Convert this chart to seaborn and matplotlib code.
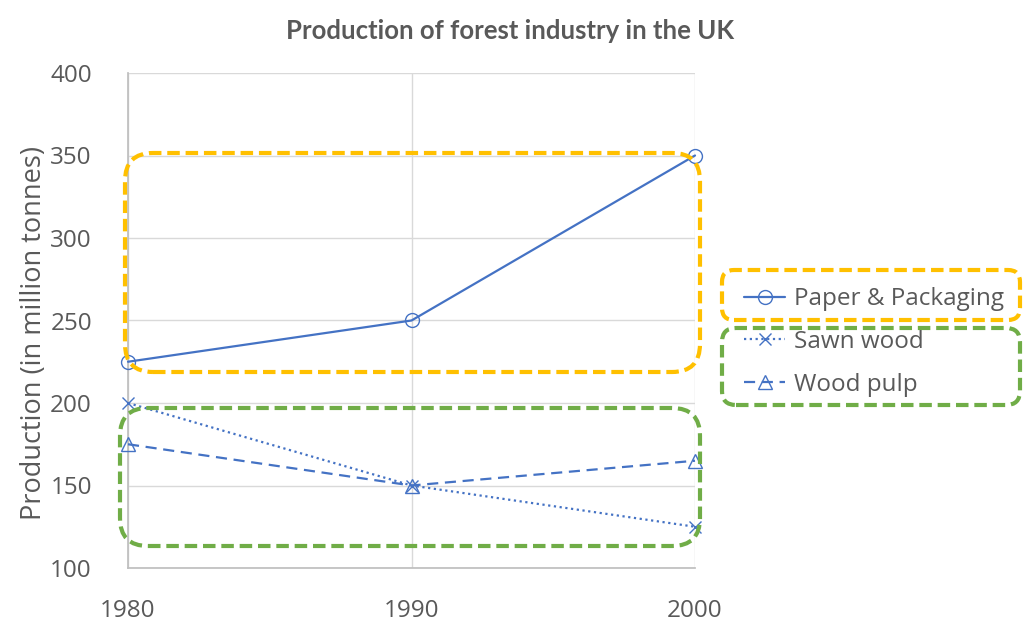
import matplotlib
matplotlib.use("Agg")
import matplotlib.pyplot as plt
import matplotlib.transforms as mtransforms
from matplotlib.patches import FancyBboxPatch
from matplotlib.lines import Line2D
import seaborn as sns
import pandas as pd

years = [1980, 1990, 2000]
paper_packaging = [225, 250, 350]
sawn_wood = [200, 150, 125]
wood_pulp = [175, 150, 165]
series_names = ["Paper & Packaging", "Sawn wood", "Wood pulp"]
y_ticks = [100, 150, 200, 250, 300, 350, 400]
title = "Production of forest industry in the UK"
y_label = "Production (in million tonnes)"

sns.set_theme(style="white")
plt.rcParams["font.family"] = ["Open Sans", "DejaVu Sans"]

BLUE = "#4472C4"
GRAY_TXT = "#595959"
GRID = "#D9D9D9"
ORANGE = "#FFC000"
GREEN = "#70AD47"

fig = plt.figure(figsize=(10.24, 6.32), dpi=100)
ax = fig.add_axes([128/1024, 1 - 568/632, (695-128)/1024, (568-73)/632])

df = pd.DataFrame({
    "year": years * 3,
    "value": paper_packaging + sawn_wood + wood_pulp,
    "series": [series_names[0]]*3 + [series_names[1]]*3 + [series_names[2]]*3,
})

styles = {
    series_names[0]: dict(marker="o", linestyle="-", ms=10),
    series_names[1]: dict(marker="x", linestyle=(0, (1, 1.6)), ms=9),
    series_names[2]: dict(marker="^", linestyle=(0, (5, 3)), ms=10),
}
handles = []
for name in series_names:
    sub = df[df["series"] == name]
    st = styles[name]
    sns.lineplot(data=sub, x="year", y="value", ax=ax, color=BLUE, lw=1.6,
                 linestyle=st["linestyle"], marker=st["marker"], markersize=st["ms"],
                 markerfacecolor="none", markeredgecolor=BLUE, markeredgewidth=1.0,
                 clip_on=False, zorder=3)
    handles.append(Line2D([], [], color=BLUE, lw=1.6, linestyle=st["linestyle"],
                          marker=st["marker"], markersize=st["ms"],
                          markerfacecolor="none", markeredgecolor=BLUE, markeredgewidth=1.0))

ax.set_xlim(1980, 2000)
ax.set_ylim(100, 400)
ax.set_xticks(years)
ax.set_yticks(y_ticks)
ax.set_xticklabels([str(y) for y in years])
ax.tick_params(axis="both", length=0, labelsize=17.5, labelcolor=GRAY_TXT)
ax.tick_params(axis="y", pad=26)
ax.tick_params(axis="x", pad=22)
ax.grid(True, color=GRID, lw=1.0)
for s in ax.spines.values():
    s.set_visible(False)
ax.spines["left"].set_visible(True)
ax.spines["bottom"].set_visible(True)
ax.spines["left"].set_color("#BFBFBF")
ax.spines["bottom"].set_color("#BFBFBF")
ax.set_xlabel("")
ax.set_ylabel(y_label, fontsize=19.5, color=GRAY_TXT)
ax.yaxis.set_label_coords((34 - 128) / 567, (568 - 333) / 495)
ax.yaxis.label.set_va("center")

if ax.get_legend():
    ax.get_legend().remove()

fig.text(510/1024, 1 - 31/632, title, ha="center", va="center", fontsize=18.5,
         fontweight="bold", color=GRAY_TXT, family=["Lato", "DejaVu Sans"])

leg = fig.legend(handles, series_names, loc="center left",
                 bbox_to_anchor=(744/1024, 1 - 342/632), frameon=False,
                 fontsize=17.5, handlelength=1.7, handletextpad=0.35,
                 labelspacing=0.78, labelcolor=GRAY_TXT, borderpad=0,
                 borderaxespad=0)

ident = mtransforms.IdentityTransform()
boxes = [
    (125, 153, 700, 372, ORANGE, 28),
    (120, 408, 700, 546, GREEN, 28),
    (722, 270, 1020, 320, ORANGE, 12),
    (722, 328, 1020, 405, GREEN, 14),
]
for x0, yt, x1, yb, col, r in boxes:
    p = FancyBboxPatch((x0, 632 - yb), x1 - x0, yb - yt,
                       boxstyle=f"round,pad=0,rounding_size={r}",
                       transform=ident, fill=False, edgecolor=col, lw=3.0,
                       linestyle=(0, (3.0, 1.4)), clip_on=False, zorder=5)
    fig.add_artist(p)

fig.savefig("out.png", dpi=100)
